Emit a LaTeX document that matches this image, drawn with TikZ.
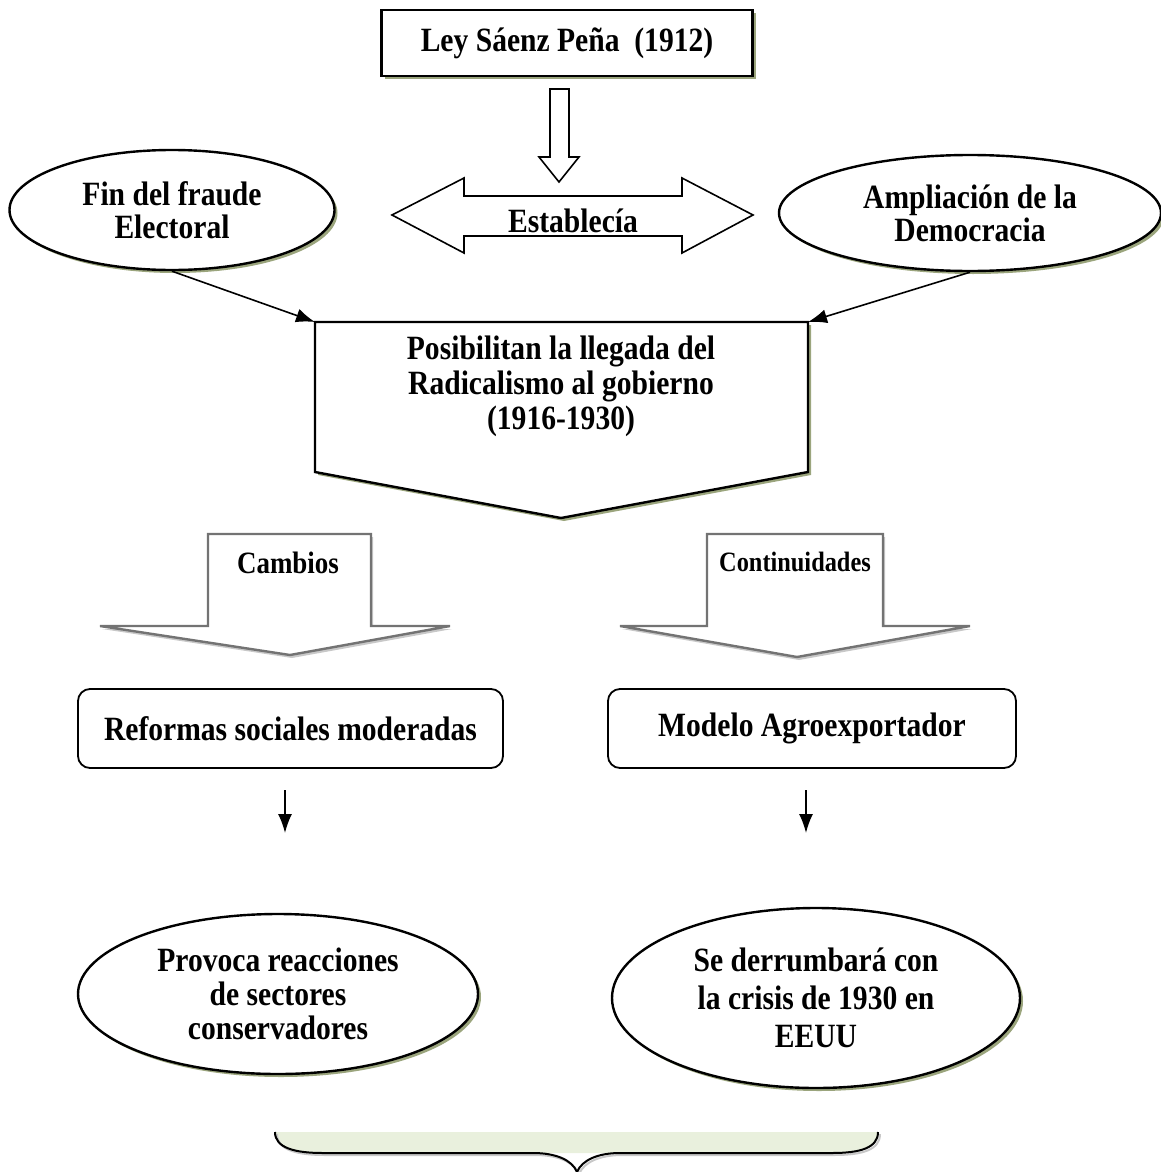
\documentclass[tikz,border=0pt]{standalone}
\usepackage{fontspec}
\setmainfont[FakeStretch=0.87]{Liberation Serif}
\usetikzlibrary{arrows.meta,shadows,shapes.geometric}
\definecolor{shol}{RGB}{155,165,125}
\definecolor{shgray}{RGB}{200,200,200}
\definecolor{arrgray}{RGB}{115,115,115}
\definecolor{bracefill}{RGB}{233,240,221}
\begin{document}
\begin{tikzpicture}[x=1pt,y=-1pt,line join=miter,
  lw/.style={line width=2.4pt},
  txt/.style={font=\fontsize{34}{33}\selectfont\bfseries, align=center, inner sep=0pt},
  olsh/.style={drop shadow={shadow xshift=3pt, shadow yshift=-3pt, fill=shol, opacity=1}},
  oval/.style={ellipse, draw, lw, fill=white, olsh, txt},
  rbox/.style={draw, line width=1.8pt, rounded corners=12pt, txt},
  conn/.style={line width=1.6pt, -{Latex[length=19pt,width=14pt]}},
  garrow/.style={draw=arrgray, line width=2.4pt, fill=white}
]
\useasboundingbox (0,0) rectangle (1161,1172);

% top box
\node[draw, lw, fill=white, olsh, minimum width=371pt, minimum height=66pt, txt] (ley) at (567,43) {Ley Sáenz Peña~ (1912)};

% down block arrow
\draw[line width=1.6pt, fill=white] (550,89) -- (569,89) -- (569,157) -- (579,157) -- (559,182) -- (539,157) -- (550,157) -- cycle;

% double arrow
\draw[line width=1.6pt, fill=white] (392,215) -- (464,178) -- (464,196) -- (682,196) -- (682,178) -- (753,215) -- (682,253) -- (682,236) -- (464,236) -- (464,253) -- cycle;
\node[txt] (est) at (573,221) {Establecía};

% ellipses top
\node[oval, minimum width=325pt, minimum height=120pt] (fin) at (172,210) {Fin del fraude\\Electoral};
\node[oval, minimum width=382pt, minimum height=116pt] (amp) at (970,213) {Ampliación de la\\Democracia};

% pentagon
\coordinate (posTL) at (315,322);
\coordinate (posTR) at (808,322);
\fill[shol, shift={(3,3)}] (315,322) -- (808,322) -- (808,472) -- (561,518) -- (315,472) -- cycle;
\draw[lw, fill=white] (posTL) -- (posTR) -- (808,472) -- (561,518) -- (315,472) -- cycle;
\node[txt, font=\fontsize{34}{35}\selectfont\bfseries] (pos) at (561,386) {Posibilitan la llegada del\\Radicalismo al gobierno\\(1916-1930)};

\draw[conn] (fin.south) -- (posTL);
\draw[conn] (amp.south) -- (posTR);

% gray arrows
\fill[shgray, shift={(2,3)}] (208,534) -- (371,534) -- (371,626) -- (450,626) -- (290,655) -- (100,626) -- (208,626) -- cycle;
\draw[garrow] (208,534) -- (371,534) -- (371,626) -- (450,626) -- (290,655) -- (100,626) -- (208,626) -- cycle;
\node[txt, font=\fontsize{31}{30}\selectfont\bfseries] (cam) at (288,563) {Cambios};

\fill[shgray, shift={(2,3)}] (707,534) -- (883,534) -- (883,626) -- (970,626) -- (797,657) -- (620,626) -- (707,626) -- cycle;
\draw[garrow] (707,534) -- (883,534) -- (883,626) -- (970,626) -- (797,657) -- (620,626) -- (707,626) -- cycle;
\node[txt, font=\fontsize{28}{27}\selectfont\bfseries] (con) at (795,562) {Continuidades};

% rounded boxes
\node[rbox, minimum width=425pt, minimum height=79pt] (ref) at (290.5,728.5) {Reformas sociales moderadas};
\node[rbox, minimum width=408pt, minimum height=79pt] (mod) at (812,728.5) {Modelo Agroexportador};

% small arrows
\coordinate (a1s) at (285,790);
\coordinate (a1e) at (285,833);
\coordinate (a2s) at (806,790);
\coordinate (a2e) at (806,833);
\draw[conn] (a1s) -- (a1e);
\draw[conn] (a2s) -- (a2e);

% bottom ellipses
\node[oval, minimum width=400pt, minimum height=160pt, font=\fontsize{34}{34}\selectfont\bfseries] (prov) at (278,994) {Provoca reacciones\\de sectores\\conservadores};
\node[oval, minimum width=408pt, minimum height=180pt, font=\fontsize{34}{38}\selectfont\bfseries] (derr) at (816,998) {Se derrumbará con\\la crisis de 1930 en\\EEUU};

% brace
\fill[bracefill] (275,1132) .. controls (275,1148) and (295,1153) .. (323,1153) -- (832,1153) .. controls (860,1153) and (878,1148) .. (878,1132) -- cycle;
\draw[shgray, line width=2pt, shift={(2,2)}] (275,1132) .. controls (275,1148) and (295,1153) .. (323,1153) -- (533,1153) .. controls (556,1153) and (572,1160) .. (577,1172) .. controls (582,1160) and (598,1153) .. (620,1153) -- (832,1153) .. controls (860,1153) and (878,1148) .. (878,1132);
\draw[line width=2pt] (275,1132) .. controls (275,1148) and (295,1153) .. (323,1153) -- (533,1153) .. controls (556,1153) and (572,1160) .. (577,1172) .. controls (582,1160) and (598,1153) .. (620,1153) -- (832,1153) .. controls (860,1153) and (878,1148) .. (878,1132);
\end{tikzpicture}
\end{document}
